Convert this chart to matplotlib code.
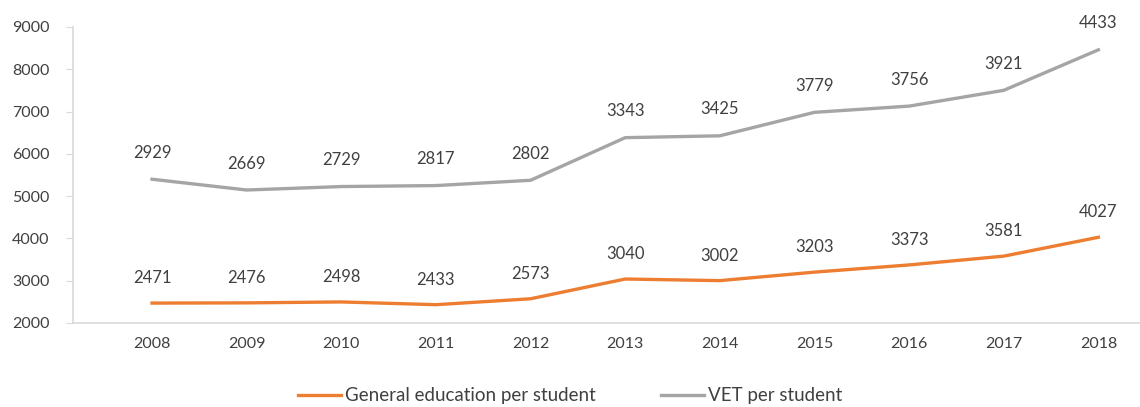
import numpy as np
import matplotlib.pyplot as plt

plt.rcParams['font.family'] = ['Lato', 'DejaVu Sans']

years = ['2008', '2009', '2010', '2011', '2012', '2013', '2014', '2015', '2016', '2017', '2018']
general = np.array([2471, 2476, 2498, 2433, 2573, 3040, 3002, 3203, 3373, 3581, 4027])
vet = np.array([2929, 2669, 2729, 2817, 2802, 3343, 3425, 3779, 3756, 3921, 4433])

# stacked lines: VET is drawn on top of general education
vet_top = general + vet

orange = '#ED7D31'
grey = '#A5A5A5'
txt = '#404040'

fig = plt.figure(figsize=(11.4, 4.07), dpi=100)
ax = fig.add_axes([73 / 1140, 1 - 323 / 407, (1140 - 73) / 1140, (323 - 27) / 407])

x = np.arange(len(years))
ax.plot(x, general, color=orange, lw=2.4, label='General education per student')
ax.plot(x, vet_top, color=grey, lw=2.4, label='VET per student')

for i in x:
    ax.annotate(str(general[i]), (i, general[i]), xytext=(0, 18), textcoords='offset points',
                ha='center', va='center', fontsize=12, color=txt)
    ax.annotate(str(vet[i]), (i, vet_top[i]), xytext=(0, 19), textcoords='offset points',
                ha='center', va='center', fontsize=12, color=txt)

ax.set_xlim(-0.835, 10.44)
ax.set_ylim(2000, 9000)
ax.set_yticks(np.arange(2000, 9001, 1000))
ax.set_xticks(x)
ax.set_xticklabels(years)
ax.tick_params(axis='y', length=5, color='#D9D9D9', labelsize=11.5, labelcolor=txt, pad=12)
ax.tick_params(axis='x', length=0, labelsize=11.5, labelcolor=txt, pad=10)

for s in ['top', 'right']:
    ax.spines[s].set_visible(False)
ax.spines['left'].set_color('#D9D9D9')
ax.spines['bottom'].set_color('#D9D9D9')
ax.spines['left'].set_linewidth(1.2)
ax.spines['bottom'].set_linewidth(1.2)

fig.legend(loc='center', bbox_to_anchor=(0.5, 1 - 396 / 407), ncol=2, frameon=False,
           fontsize=13.5, labelcolor=txt, handlelength=2.3, handletextpad=0.2, columnspacing=3.5)

fig.savefig('out.png', dpi=100)
